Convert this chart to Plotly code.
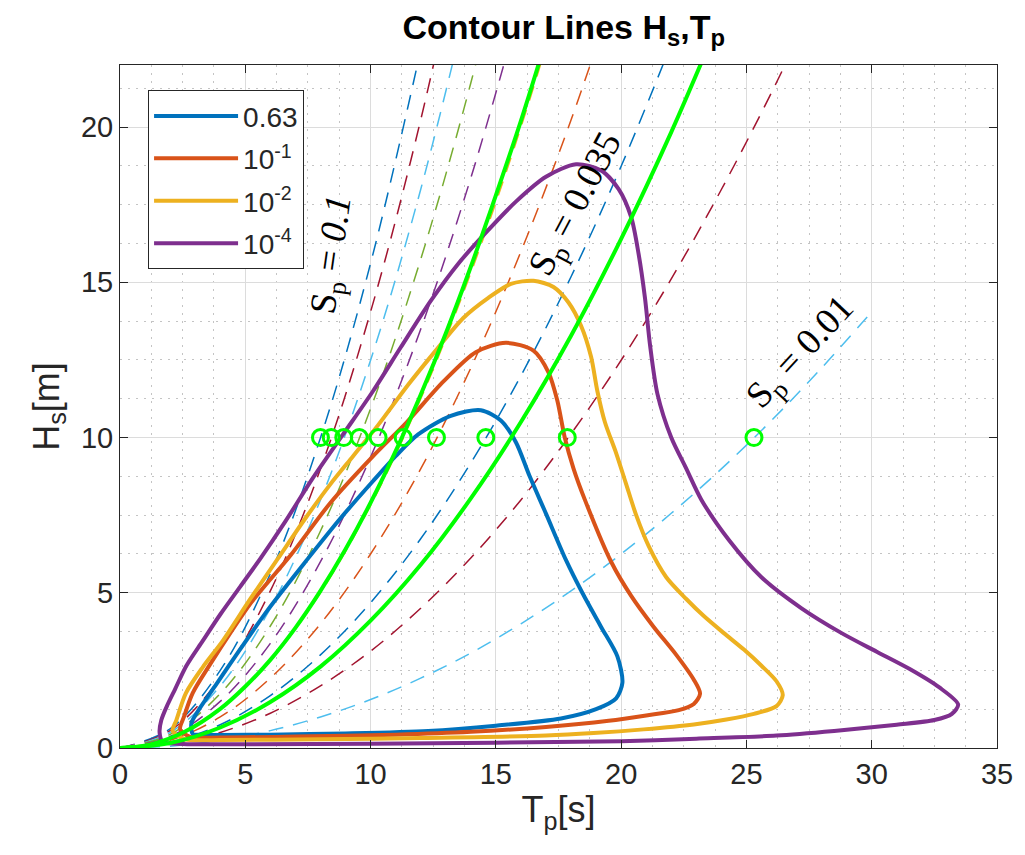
import plotly.graph_objects as go

# ---------------- data ----------------
# steepness (dashed) lines: Hs at Tp = 0, 2, 4, ... (values beyond 22 are clipped by the axis)
STEEP_TP = [0, 2, 4, 6, 8, 10, 12, 14, 16, 18, 20, 22, 24, 26, 28, 30]
HS_SP010 = [0, 0.62, 2.50, 5.62, 9.99, 15.61, 22.48]
HS_SP009 = [0, 0.56, 2.25, 5.06, 8.99, 14.05, 20.23, 27.54]
HS_SP008 = [0, 0.50, 2.00, 4.50, 7.99, 12.49, 17.99, 24.48]
HS_SP007 = [0, 0.44, 1.75, 3.93, 6.99, 10.93, 15.74, 21.42, 27.98]
HS_SP006 = [0, 0.37, 1.50, 3.37, 6.00, 9.37, 13.49, 18.36, 23.98]
HS_SP005 = [0, 0.31, 1.25, 2.81, 5.00, 7.81, 11.24, 15.30, 19.99, 25.29]
HS_SP004 = [0, 0.25, 1.00, 2.25, 4.00, 6.25, 8.99, 12.24, 15.99, 20.23, 24.98]
HS_SP003 = [0, 0.19, 0.75, 1.69, 3.00, 4.68, 6.74, 9.18, 11.99, 15.18, 18.74, 22.67]
HS_SP002 = [0, 0.12, 0.50, 1.12, 2.00, 3.12, 4.50, 6.12, 7.99, 10.12, 12.49, 15.11, 17.99, 21.11, 24.48]
HS_SP001 = [0, 0.06, 0.25, 0.56, 1.00, 1.56, 2.25, 3.06, 4.00, 5.06, 6.25, 7.56, 8.99, 10.55, 12.24, 14.05]

# environmental contours (traced: left edge up, peak, right edge down, nose, bottom back)
C063_TP = [2.9, 2.85, 3.2, 3.8, 4.6, 5.9, 7.5, 8.8, 10.1, 11.0, 11.9, 13.2, 14.4, 15.2, 15.8,
           16.35, 17.0, 17.8, 18.45, 19.2, 19.85, 20.05, 19.8, 19.0, 17.6, 15.0, 12.3, 9.0, 6.0, 4.0, 3.1, 2.9]
C063_HS = [0.45, 0.8, 1.3, 2.0, 2.95, 4.45, 6.1, 7.4, 8.6, 9.4, 10.1, 10.7, 10.88, 10.55, 9.85,
           8.75, 7.55, 6.05, 5.0, 3.9, 2.95, 2.1, 1.6, 1.25, 0.95, 0.72, 0.55, 0.47, 0.43, 0.42, 0.43, 0.45]

C1E1_TP = [2.4, 2.55, 2.9, 3.6, 4.4, 5.25, 6.8, 8.4, 10.1, 11.45, 12.9, 14.2, 15.4, 16.5, 17.1,
           17.45, 17.75, 18.1, 18.55, 19.6, 20.4, 21.3, 22.2, 22.9, 23.15, 22.9, 22.3, 21.0, 19.5,
           17.0, 14.0, 11.0, 7.0, 4.0, 2.8, 2.4]
C1E1_HS = [0.6, 1.0, 1.77, 2.7, 3.7, 4.7, 6.2, 7.9, 9.4, 10.5, 11.8, 12.75, 13.05, 12.8, 12.1,
           11.2, 10.0, 9.0, 8.0, 6.0, 4.9, 3.9, 3.0, 2.2, 1.75, 1.42, 1.22, 1.05, 0.88,
           0.68, 0.52, 0.43, 0.37, 0.34, 0.36, 0.6]

C1E2_TP = [2.1, 2.25, 2.63, 3.3, 4.1, 5.2, 6.3, 7.4, 8.4, 9.3, 10.3, 11.5, 12.6, 13.7, 14.7, 15.6,
           16.5, 17.3, 17.9, 18.4, 18.8, 19.05, 19.35, 19.8, 20.2, 20.6, 21.1, 21.8, 22.6, 23.3,
           24.1, 24.9, 25.6, 26.2, 26.45, 26.2, 25.3, 24.2, 22.9, 20.9, 18.9, 17.0, 12.0, 8.0,
           4.0, 2.6, 2.1]
C1E2_HS = [0.55, 0.9, 1.77, 2.6, 3.45, 4.8, 6.1, 7.4, 8.5, 9.4, 10.4, 11.7, 12.8, 13.85, 14.5, 14.95,
           15.05, 14.85, 14.35, 13.6, 12.6, 11.5, 10.5, 9.5, 8.5, 7.5, 6.5, 5.5, 4.8, 4.25,
           3.7, 3.17, 2.65, 2.15, 1.7, 1.35, 1.1, 0.92, 0.76, 0.6, 0.48, 0.4, 0.32, 0.28,
           0.26, 0.28, 0.55]

C1E4_TP = [1.58, 1.65, 1.9, 2.2, 2.65, 3.3, 4.0, 4.8, 5.6, 6.6, 7.7, 8.9, 10.1, 11.2, 12.4, 13.5,
           14.6, 15.8, 17.0, 18.2, 19.2, 19.9, 20.4, 20.7, 20.95, 21.15, 21.45, 22.0, 22.6, 23.2,
           24.3, 25.6, 27.2, 28.8, 30.2, 31.5, 32.7, 33.45, 33.2, 32.5, 31.0, 28.5, 26.2, 23.0,
           20.0, 15.0, 10.0, 5.0, 2.5, 1.7, 1.58]
C1E4_HS = [0.5, 0.9, 1.4, 1.9, 2.65, 3.45, 4.3, 5.2, 6.1, 7.3, 8.7, 10.1, 11.5, 12.9, 14.4, 15.6,
           16.6, 17.6, 18.4, 18.8, 18.6, 18.0, 17.1, 15.9, 14.5, 13.0, 11.4, 10.0, 9.0, 8.0,
           6.7, 5.5, 4.5, 3.7, 3.1, 2.55, 1.95, 1.4, 1.1, 0.9, 0.75, 0.55, 0.4, 0.3,
           0.22, 0.17, 0.14, 0.12, 0.13, 0.2, 0.5]

# green solid lines
G1_TP = [0, 1.2, 2.6, 4, 5, 6, 7, 8, 9, 10, 11, 12, 13, 14, 15, 16, 17]
G1_HS = [0, 0.11, 0.53, 1.26, 1.98, 2.84, 3.87, 5.06, 6.4, 7.9, 9.56, 11.38, 13.35, 15.5, 17.8, 20.2, 22.8]
G2_TP = [0, 2, 4, 6, 8, 10, 12, 14, 16, 18, 20, 22, 24]
G2_HS = [0, 0.16, 0.66, 1.48, 2.62, 4.1, 5.9, 8.04, 10.5, 13.28, 16.4, 19.84, 23.6]

# green circles on Hs = 10
CIRCLE_TP = [25.3, 17.85, 14.6, 12.63, 11.3, 10.3, 9.55, 8.93, 8.43, 8.0]
CIRCLE_HS = [10, 10, 10, 10, 10, 10, 10, 10, 10, 10]

LEGEND_LABELS = ["0.63", "10<sup>-1</sup>", "10<sup>-2</sup>", "10<sup>-4</sup>"]

# ---------------- styling ----------------
BLUE = "#0072BD"
ORANGE = "#D95319"
YELLOW = "#EDB120"
PURPLE = "#7E2F8E"
MGREEN = "#77AC30"
LBLUE = "#4DBEEE"
MAROON = "#A2142F"
GREEN = "#00FF00"
SANS = "Liberation Sans, Arial, sans-serif"

fig = go.Figure()

steep = [
    (HS_SP010, BLUE), (HS_SP009, MAROON), (HS_SP008, LBLUE), (HS_SP007, MGREEN),
    (HS_SP006, PURPLE), (HS_SP005, YELLOW), (HS_SP004, ORANGE), (HS_SP003, BLUE),
    (HS_SP002, MAROON), (HS_SP001, LBLUE),
]
for hs, col in steep:
    fig.add_trace(go.Scatter(
        x=STEEP_TP[:len(hs)], y=hs, mode="lines", showlegend=False, hoverinfo="skip",
        line=dict(color=col, width=1.5, dash="15px,10px", shape="spline")))

contours = [(C063_TP, C063_HS, BLUE), (C1E1_TP, C1E1_HS, ORANGE),
            (C1E2_TP, C1E2_HS, YELLOW), (C1E4_TP, C1E4_HS, PURPLE)]
for i, (tp, hs, col) in enumerate(contours):
    fig.add_trace(go.Scatter(
        x=tp, y=hs, mode="lines", name=LEGEND_LABELS[i], legendgroup=str(i),
        line=dict(color=col, width=4, shape="spline", smoothing=0.8)))

for tp, hs in [(G1_TP, G1_HS), (G2_TP, G2_HS)]:
    fig.add_trace(go.Scatter(
        x=tp, y=hs, mode="lines", showlegend=False,
        line=dict(color=GREEN, width=4, shape="spline")))

fig.add_trace(go.Scatter(
    x=CIRCLE_TP, y=CIRCLE_HS, mode="markers", showlegend=False,
    marker=dict(symbol="circle-open", size=16, color=GREEN, line=dict(width=3, color=GREEN))))

ann_font = dict(family="Liberation Serif, Times New Roman, serif", size=37, color="black")
fig.add_annotation(x=8.5, y=15.9, text="S<sub>p</sub> = <i>0.1</i>", textangle=-82,
                   showarrow=False, font=ann_font)
fig.add_annotation(x=18.25, y=17.5, text="S<sub>p</sub> = 0.035", textangle=-62,
                   showarrow=False, font=ann_font)
fig.add_annotation(x=27.2, y=12.7, text="S<sub>p</sub> = 0.01", textangle=-47,
                   showarrow=False, font=ann_font)

axis_common = dict(
    showline=True, linecolor="#262626", linewidth=1, mirror="ticks",
    ticks="inside", ticklen=8, tickcolor="#262626",
    showgrid=True, gridcolor="#dcdcdc", gridwidth=1, zeroline=False,
    tickfont=dict(family=SANS, size=29, color="#262626"),
    minor=dict(dtick=1.25, showgrid=True, gridcolor="#c4c4c4", griddash="2px,6px", gridwidth=1),
)

fig.update_layout(
    width=1025, height=855,
    margin=dict(l=120, r=20, t=65, b=107),
    paper_bgcolor="white", plot_bgcolor="white",
    title=dict(text="<b>Contour Lines H<sub>s</sub>,T<sub>p</sub></b>", x=0.55, xanchor="center",
               y=0.968, yanchor="middle",
               font=dict(family=SANS, size=34, color="black")),
    xaxis=dict(range=[0, 35], dtick=5, tick0=0,
               title=dict(text="T<sub>p</sub>[s]", standoff=8,
                          font=dict(family=SANS, size=36, color="#262626")),
               **axis_common),
    yaxis=dict(range=[0, 22], dtick=5, tick0=0,
               title=dict(text="H<sub>s</sub>[m]", standoff=10,
                          font=dict(family=SANS, size=36, color="#262626")),
               **axis_common),
    legend=dict(x=0.032, y=0.963, xanchor="left", yanchor="top",
                bgcolor="white", bordercolor="#262626", borderwidth=1,
                font=dict(family=SANS, size=28, color="#262626"),
                itemwidth=84, traceorder="grouped", tracegroupgap=3),
    showlegend=True,
)

fig.write_html("out.html")
